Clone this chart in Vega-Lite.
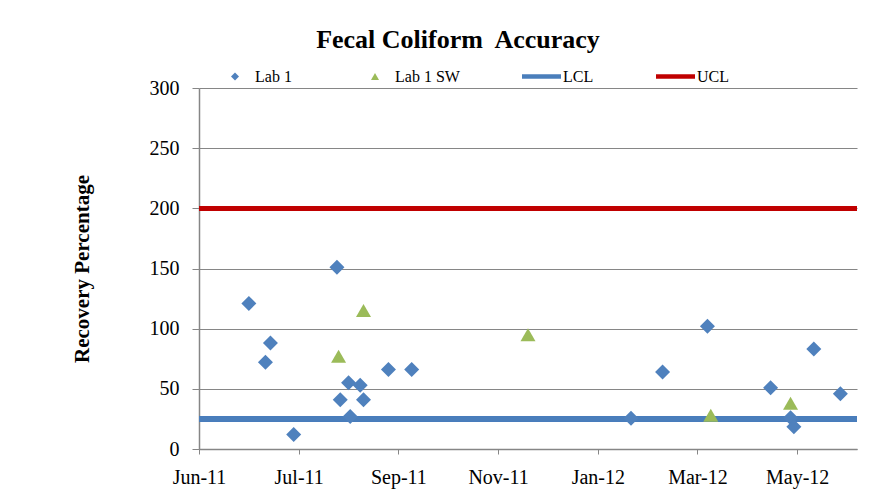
{
  "$schema": "https://vega.github.io/schema/vega-lite/v6.json",
  "width": 658,
  "height": 361,
  "autosize": "none",
  "padding": {"left": 199, "top": 88, "right": 35, "bottom": 42},
  "background": "white",
  "title": {
    "text": "Fecal Coliform\u00a0 Accuracy",
    "font": "Liberation Serif",
    "fontSize": 26,
    "fontWeight": "bold",
    "color": "black",
    "anchor": "middle",
    "frame": "group",
    "dx": -70,
    "baseline": "alphabetic",
    "offset": -5
  },
  "data": {
    "values": [
      {"date": "2011-07-01", "value": 121, "series": "Lab 1"},
      {"date": "2011-07-14", "value": 88, "series": "Lab 1"},
      {"date": "2011-07-11", "value": 72, "series": "Lab 1"},
      {"date": "2011-07-28", "value": 12, "series": "Lab 1"},
      {"date": "2011-08-23", "value": 151, "series": "Lab 1"},
      {"date": "2011-08-24", "value": 77, "series": "Lab 1 SW"},
      {"date": "2011-09-08", "value": 115, "series": "Lab 1 SW"},
      {"date": "2011-08-30", "value": 55, "series": "Lab 1"},
      {"date": "2011-09-06", "value": 53, "series": "Lab 1"},
      {"date": "2011-08-25", "value": 41, "series": "Lab 1"},
      {"date": "2011-09-08", "value": 41, "series": "Lab 1"},
      {"date": "2011-08-31", "value": 27, "series": "Lab 1"},
      {"date": "2011-09-23", "value": 66, "series": "Lab 1"},
      {"date": "2011-10-07", "value": 66, "series": "Lab 1"},
      {"date": "2011-12-16", "value": 95, "series": "Lab 1 SW"},
      {"date": "2012-02-16", "value": 25.5, "series": "Lab 1"},
      {"date": "2012-03-06", "value": 64, "series": "Lab 1"},
      {"date": "2012-04-02", "value": 102, "series": "Lab 1"},
      {"date": "2012-04-04", "value": 28, "series": "Lab 1 SW"},
      {"date": "2012-05-10", "value": 51, "series": "Lab 1"},
      {"date": "2012-05-22", "value": 38, "series": "Lab 1 SW"},
      {"date": "2012-05-22", "value": 26, "series": "Lab 1"},
      {"date": "2012-05-24", "value": 18.5, "series": "Lab 1"},
      {"date": "2012-06-05", "value": 83, "series": "Lab 1"},
      {"date": "2012-06-21", "value": 46, "series": "Lab 1"}
    ]
  },
  "layer": [
    {
      "mark": {"type": "rule", "color": "#4A7EBB", "strokeWidth": 4.5},
      "encoding": {"y": {"datum": 25, "type": "quantitative"}}
    },
    {
      "mark": {"type": "rule", "color": "#C00000", "strokeWidth": 4.5},
      "encoding": {"y": {"datum": 200, "type": "quantitative"}}
    },
    {
      "mark": {"type": "point", "filled": true, "opacity": 1, "size": 225, "strokeWidth": 0},
      "encoding": {
        "x": {
          "field": "date",
          "type": "temporal",
          "scale": {
            "type": "utc",
            "domain": [
              {"year": 2011, "month": 6, "date": 1, "utc": true},
              {"year": 2012, "month": 7, "date": 1, "utc": true}
            ]
          },
          "axis": {
            "values": [
              {"year": 2011, "month": 6, "date": 1, "utc": true},
              {"year": 2011, "month": 7, "date": 31, "utc": true},
              {"year": 2011, "month": 9, "date": 29, "utc": true},
              {"year": 2011, "month": 11, "date": 28, "utc": true},
              {"year": 2012, "month": 1, "date": 27, "utc": true},
              {"year": 2012, "month": 3, "date": 27, "utc": true},
              {"year": 2012, "month": 5, "date": 26, "utc": true}
            ],
            "format": "%b-%y",
            "title": null,
            "grid": false,
            "labelFont": "Liberation Serif",
            "labelFontSize": 20,
            "labelColor": "black",
            "labelPadding": 13,
            "labelFlush": false,
            "labelOverlap": false,
            "tickSize": 5,
            "tickColor": "#868686",
            "domainColor": "#868686",
            "domainWidth": 1.5
          }
        },
        "y": {
          "field": "value",
          "type": "quantitative",
          "scale": {"domain": [0, 300], "nice": false},
          "axis": {
            "values": [0, 50, 100, 150, 200, 250, 300],
            "title": "Recovery Percentage",
            "titleFont": "Liberation Serif",
            "titleFontSize": 21,
            "titleFontWeight": "bold",
            "titleColor": "black",
            "titlePadding": 57,
            "labelFont": "Liberation Serif",
            "labelFontSize": 20,
            "labelColor": "black",
            "labelPadding": 13,
            "tickSize": 7,
            "tickColor": "#868686",
            "domainColor": "#868686",
            "domainWidth": 1.5,
            "grid": true,
            "gridColor": "#868686",
            "gridWidth": 1.2
          }
        },
        "color": {
          "field": "series",
          "type": "nominal",
          "scale": {
            "domain": ["Lab 1", "Lab 1 SW", "LCL", "UCL"],
            "range": ["#4F81BD", "#9BBB59", "#4A7EBB", "#C00000"]
          },
          "legend": {
            "title": null,
            "orient": "none",
            "legendX": 28,
            "legendY": -19.5,
            "direction": "horizontal",
            "labelFont": "Liberation Serif",
            "labelFontSize": 16,
            "labelColor": "black",
            "symbolSize": 64,
            "symbolStrokeWidth": 0,
            "symbolOpacity": 1,
            "labelOffset": 12,
            "columnPadding": 62,
            "padding": 0
          }
        },
        "shape": {
          "field": "series",
          "type": "nominal",
          "scale": {
            "domain": ["Lab 1", "Lab 1 SW", "LCL", "UCL"],
            "range": [
              "M-5.25,0M-1,0L0,-1L1,0L0,1Z",
              "M-5.25,0M0,-0.866L-1,0.866L1,0.866Z",
              "M-5.25,-0.55H4.5V0.55H-5.25Z",
              "M-5.25,-0.55H4.5V0.55H-5.25Z"
            ]
          },
          "legend": {
            "title": null,
            "orient": "none",
            "legendX": 28,
            "legendY": -19.5,
            "direction": "horizontal",
            "labelFont": "Liberation Serif",
            "labelFontSize": 16,
            "labelColor": "black",
            "symbolSize": 64,
            "symbolStrokeWidth": 0,
            "symbolOpacity": 1,
            "labelOffset": 12,
            "columnPadding": 62,
            "padding": 0
          }
        }
      }
    }
  ],
  "config": {
    "view": {"stroke": null},
    "legend": {"labelFont": "Liberation Serif", "labelFontSize": 16, "labelColor": "black"}
  }
}
